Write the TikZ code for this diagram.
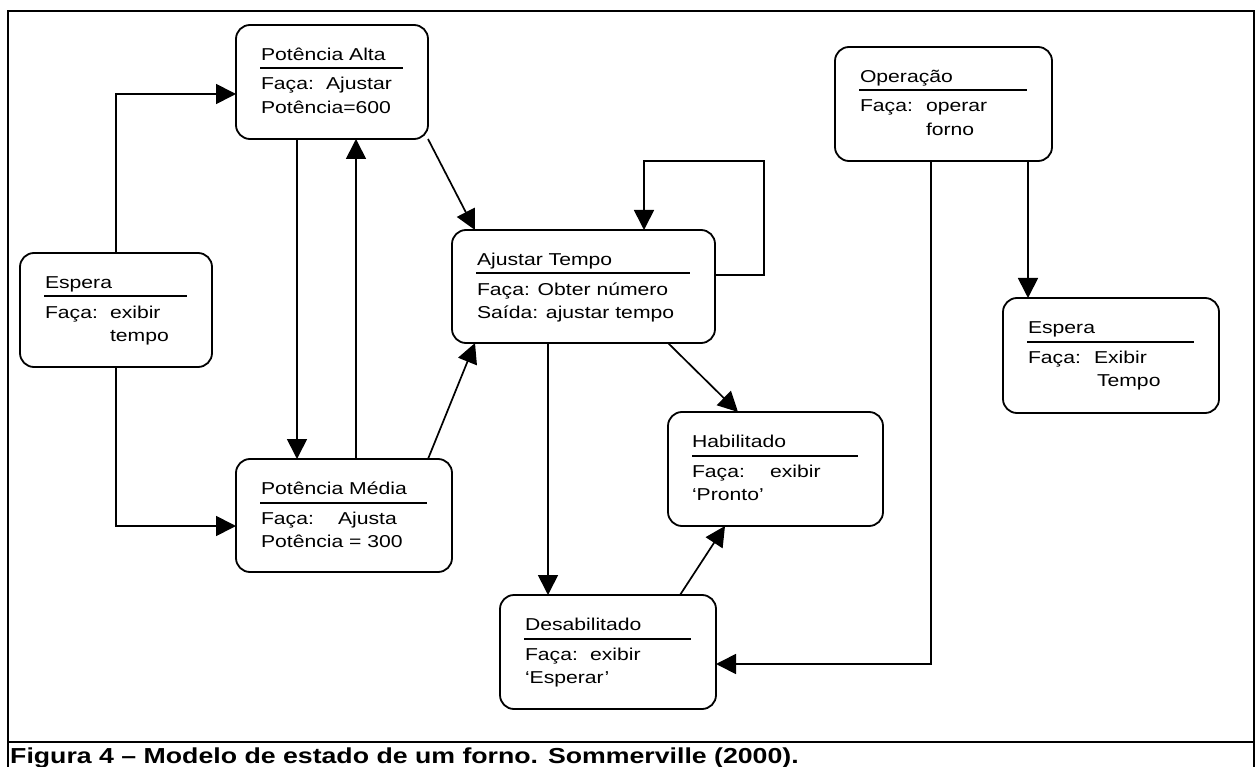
\documentclass[tikz,border=0pt]{standalone}
\usepackage{fontspec}
\setmainfont{Liberation Sans}
\usetikzlibrary{arrows.meta,calc}

% widened text, as the lettering of the figure is set
\newcommand\wide[1]{\scalebox{1.23}[1]{#1}}

% one drawing unit = 1pt, y grows downwards
\tikzset{
  statebox/.style={draw, line width=1.8pt, rounded corners=14pt, outer sep=0pt, inner sep=0pt},
  txt/.style={anchor=base west, inner sep=0pt, outer sep=0pt, font=\fontsize{17.2}{23}\selectfont},
  rule/.style={line width=2pt},
  arr/.style={line width=1.7pt, -{Triangle[length=20pt,width=20pt]}},
  frame/.style={line width=2pt},
}

% state box: name, left, top, width, height
\newcommand\stbox[5]{%
  \node[statebox, minimum width=#4pt, minimum height=#5pt, anchor=north west] (#1) at (#2,#3) {};
  \draw[rule] ($(#1.north west)+(24,43.5)$) -- ($(#1.north east)+(-25,43.5)$);
}

\begin{document}
\begin{tikzpicture}[x=1pt, y=-1pt]
\useasboundingbox (0,0) rectangle (1258,767);

% outer frame and caption row
\draw[frame] (8,767) -- (8,11) -- (1254,11) -- (1254,767);
\draw[frame] (8,742) -- (1254,742);
\node[anchor=base west, inner sep=0pt, font=\bfseries\fontsize{21.7}{24}\selectfont] (cap) at (10,763)
  {\wide{Figura 4 – Modelo de estado de um forno. Sommerville (2000).}};

% states
\stbox{pa}{236}{25}{192}{114}
\node[txt] (pa-t) at (261,60.5) {\wide{Potência Alta}};
\node[txt] (pa-a) at (261,90) {\wide{Faça:}};
\node[txt] (pa-b) at (326,90) {\wide{Ajustar}};
\node[txt] (pa-c) at (261,113.5) {\wide{Potência=600}};

\stbox{e1}{20}{253}{192}{114}
\node[txt] (e1-t) at (45,288.5) {\wide{Espera}};
\node[txt] (e1-a) at (45,318) {\wide{Faça:}};
\node[txt] (e1-b) at (110,318) {\wide{exibir}};
\node[txt] (e1-c) at (110,341.5) {\wide{tempo}};

\stbox{pm}{236}{459}{216}{113}
\node[txt] (pm-t) at (261,494.5) {\wide{Potência Média}};
\node[txt] (pm-a) at (261,524) {\wide{Faça:}};
\node[txt] (pm-b) at (338,524) {\wide{Ajusta}};
\node[txt] (pm-c) at (261,547.5) {\wide{Potência = 300}};

\stbox{at}{452}{230}{263}{113}
\node[txt] (at-t) at (477,265.5) {\wide{Ajustar Tempo}};
\node[txt] (at-a) at (477,295) {\wide{Faça: Obter número}};
\node[txt] (at-b) at (477,318.5) {\wide{Saída: ajustar tempo}};

\stbox{op}{835}{47}{217}{114}
\node[txt] (op-t) at (860,82.5) {\wide{Operação}};
\node[txt] (op-a) at (860,112) {\wide{Faça:}};
\node[txt] (op-b) at (926,112) {\wide{operar}};
\node[txt] (op-c) at (926,135.5) {\wide{forno}};

\stbox{e2}{1003}{298}{216}{115}
\node[txt] (e2-t) at (1028,333.5) {\wide{Espera}};
\node[txt] (e2-a) at (1028,363) {\wide{Faça:}};
\node[txt] (e2-b) at (1094,363) {\wide{Exibir}};
\node[txt] (e2-c) at (1097,386.5) {\wide{Tempo}};

\stbox{hab}{668}{412}{215}{114}
\node[txt] (hab-t) at (692,447.5) {\wide{Habilitado}};
\node[txt] (hab-a) at (692,477) {\wide{Faça:}};
\node[txt] (hab-b) at (770,477) {\wide{exibir}};
\node[txt] (hab-c) at (692,500.5) {\wide{‘Pronto’}};

\stbox{des}{500}{595}{216}{114}
\node[txt] (des-t) at (525,630.5) {\wide{Desabilitado}};
\node[txt] (des-a) at (525,660) {\wide{Faça:}};
\node[txt] (des-b) at (590,660) {\wide{exibir}};
\node[txt] (des-c) at (525,683.5) {\wide{‘Esperar’}};

% transitions
\draw[arr] (e1.north) |- ([yshift=-12pt]pa.west);
\draw[arr] (e1.south) |- ([yshift=-10.5pt]pm.west);
\draw[arr] ([xshift=-35pt]pa.south) -- ([xshift=-35pt]pa.south |- pm.north);
\draw[arr] ([xshift=12pt]pm.north) -- ([xshift=12pt]pm.north |- pa.south);
\draw[arr] (pa.south east) -- ([xshift=23pt]at.north west);
\draw[arr] ([xshift=-24pt]pm.north east) -- ([xshift=23pt]at.south west);
\coordinate (atloop) at (764,161);
\draw[arr] ([yshift=11.5pt]at.east) -| (atloop) -| ([xshift=60.5pt]at.north);
\draw[arr] ([xshift=-35.5pt]at.south) -- ([xshift=-35.5pt]at.south |- des.north);
\draw[arr] ([xshift=-47pt]at.south east) -- ([xshift=70pt]hab.north west);
\draw[arr] ([xshift=-36pt]des.north east) -- ([xshift=57pt]hab.south west);
\draw[arr] ([xshift=-12.5pt]op.south) |- ([yshift=-12pt]des.east);
\draw[arr] ([xshift=193pt]op.south west) -- ([xshift=193pt]op.south west |- e2.north);
\end{tikzpicture}
\end{document}
